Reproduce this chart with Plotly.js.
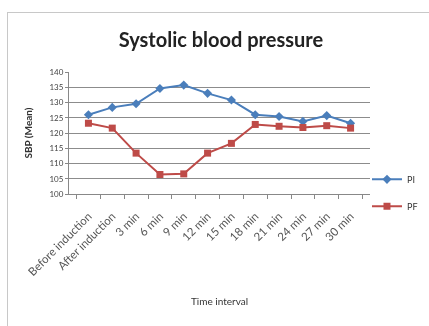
<!DOCTYPE html>
<html>
<head>
<meta charset="utf-8">
<script src="https://cdn.plot.ly/plotly-3.0.1.min.js"></script>
<style>
  html, body { margin: 0; padding: 0; background: #ffffff; }
  #frame { position: absolute; left: 7px; top: 12px; width: 440px; height: 330px;
           border: 1px solid #c8c8c8; box-sizing: border-box; }
  #chart { position: absolute; left: 0; top: 0; width: 429px; height: 326px; filter: blur(0.6px); }
</style>
</head>
<body>
<div id="frame"></div>
<div id="chart"></div>
<script>
// Time points at which systolic pressure was recorded
const timePoints = ["Before induction", "After induction", "3 min", "6 min", "9 min",
  "12 min", "15 min", "18 min", "21 min", "24 min", "27 min", "30 min"];

// Mean systolic blood pressure (mmHg) per group
const groupPI = [126, 128.4, 129.6, 134.6, 135.7, 133, 130.8, 126, 125.4, 123.8, 125.7, 123.2];
const groupPF = [123.2, 121.6, 113.4, 106.4, 106.6, 113.4, 116.6, 122.8, 122.2, 121.8, 122.4, 121.6];

const yTicks = [100, 105, 110, 115, 120, 125, 130, 135, 140];

const font = "Lato, 'Open Sans', sans-serif";

const traces = [
  {
    x: timePoints, y: groupPI, name: "PI", type: "scatter", mode: "lines+markers",
    legend: "legend",
    line: { color: "#4a7ebb", width: 2 },
    marker: { symbol: "diamond", size: 7, color: "#4a7ebb" }
  },
  {
    x: timePoints, y: groupPF, name: "PF", type: "scatter", mode: "lines+markers",
    legend: "legend2",
    line: { color: "#be4b48", width: 2 },
    marker: { symbol: "square", size: 7, color: "#be4b48" }
  }
];

const legendStyle = {
  x: 0.99, xanchor: "left", yanchor: "middle",
  font: { family: font, size: 9, color: "#333" },
  itemwidth: 30,
  bgcolor: "rgba(0,0,0,0)"
};

const layout = {
  width: 429, height: 326,
  margin: { l: 69, r: 59, t: 72, b: 132, autoexpand: false },
  paper_bgcolor: "rgba(0,0,0,0)",
  plot_bgcolor: "rgba(0,0,0,0)",
  font: { family: font, color: "#333", size: 8 },
  showlegend: true,
  title: {
    text: "Systolic blood pressure",
    font: { family: font, size: 20, color: "#222", weight: "bold" },
    x: 0.515, xanchor: "center", y: 0.877, yanchor: "middle"
  },
  xaxis: {
    type: "category",
    tickson: "boundaries",
    ticks: "outside", ticklen: 4, tickcolor: "#888",
    showline: true, linecolor: "#888", linewidth: 1,
    showgrid: false,
    tickangle: -45,
    ticklabelstandoff: 10,
    tickfont: { size: 11.5, color: "#555" },
    title: { text: "Time interval", font: { size: 10, color: "#333" }, standoff: 20 }
  },
  yaxis: {
    range: [100, 140],
    tickvals: yTicks,
    ticktext: yTicks.map(String),
    ticks: "outside", ticklen: 3, tickcolor: "#888",
    showline: true, linecolor: "#888", linewidth: 1,
    showgrid: true, gridcolor: "#8c8c8c", gridwidth: 1,
    zeroline: false,
    tickfont: { size: 8, color: "#444" },
    title: { text: "SBP (Mean)", font: { size: 10, color: "#333", weight: "bold" }, standoff: 14 }
  },
  legend: Object.assign({ y: 0.12 }, legendStyle),
  legend2: Object.assign({ y: -0.1 }, legendStyle)
};

Plotly.newPlot("chart", traces, layout, { displayModeBar: false, staticPlot: true });
</script>
</body>
</html>
